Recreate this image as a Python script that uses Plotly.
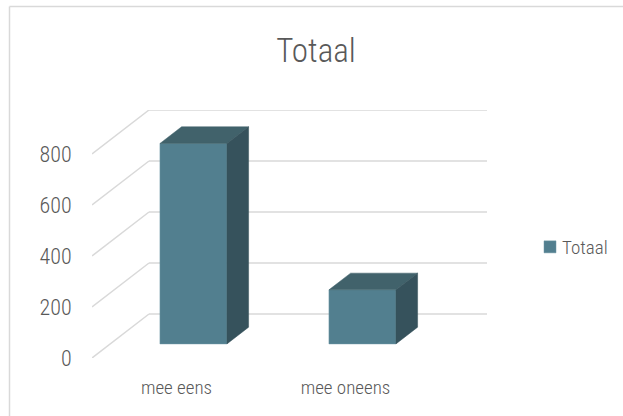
import plotly.graph_objects as go

title = "Totaal"
series_name = "Totaal"
categories = ["mee eens", "mee oneens"]
values = [786, 212]
y_ticks = [0, 200, 400, 600, 800]

FONT = "'Roboto Condensed','Open Sans Condensed','Noto Sans Condensed','DejaVu Sans Condensed',Roboto,sans-serif"
TXT = "#595959"
FRONT, TOP, SIDE, GRID = "#527f8f", "#41626b", "#36525c", "#d9d9d9"

# oblique projection of the 3D chart onto the 2D axes
W, H = 623, 416
L, R, T, B = 92, 487, 110, 358
DX, DY = 57 / 169, 44 / 0.255     # axis units for full depth
D0, D1 = 0.32, 0.70               # front / back of each column, in depth
BAR_W = 67 / 169
BAR_SHIFT = -1.3 / 169
X_MAX = (R - L) / 169
Y_MAX = (B - T) / 0.255


def proj(cat, val, depth):
    return cat + depth * DX, val + depth * DY


fig = go.Figure()
centers = [i + 0.5 for i in range(len(categories))]
bar_centers = [c + BAR_SHIFT for c in centers]

fig.add_bar(
    x=[proj(c, 0, D0)[0] for c in bar_centers],
    y=values,
    base=[D0 * DY] * len(values),
    width=BAR_W,
    name=series_name,
    marker=dict(color=FRONT, line=dict(color="#6f97a5", width=0.5)),
    hoverinfo="skip",
)

for c, v in zip(bar_centers, values):
    a, b = c - BAR_W / 2, c + BAR_W / 2
    faces = [
        ([(a, v, D0), (b, v, D0), (b, v, D1), (a, v, D1)], TOP),
        ([(b, 0, D0), (b, 0, D1), (b, v, D1), (b, v, D0)], SIDE),
    ]
    for pts, col in faces:
        xy = [proj(*p) for p in pts + pts[:1]]
        fig.add_scatter(
            x=[p[0] for p in xy], y=[p[1] for p in xy],
            mode="lines", fill="toself", fillcolor=col,
            line=dict(color=col, width=0.5),
            showlegend=False, hoverinfo="skip",
        )

shapes = []
for t in y_ticks:
    (x0, y0), (x1, y1) = proj(0, t, 0), proj(0, t, 1)
    x2, y2 = X_MAX, y1
    for a, b, c, d in [(x0, y0, x1, y1), (x1, y1, x2, y2)]:
        shapes.append(dict(type="line", xref="x", yref="y", x0=a, y0=b, x1=c, y1=d,
                           layer="below", line=dict(color=GRID, width=1.5)))

# chart-area border (left and top edges are visible in the frame)
bx = (9.5 - L) / (R - L)
by = (B - 6.5) / (B - T)
shapes.append(dict(type="line", xref="paper", yref="paper", x0=bx, x1=bx, y0=by,
                   y1=(B - 416) / (B - T), line=dict(color=GRID, width=1.5)))
shapes.append(dict(type="line", xref="paper", yref="paper", x0=bx, x1=(623 - L) / (R - L),
                   y0=by, y1=by, line=dict(color=GRID, width=1.5)))

fig.update_layout(
    width=W, height=H,
    margin=dict(l=L, r=W - R, t=T, b=H - B, autoexpand=False),
    paper_bgcolor="white", plot_bgcolor="white",
    font=dict(family=FONT, color=TXT),
    title=dict(text=title, x=316 / W, xref="container", xanchor="center",
               y=1 - 50 / H, yref="container", yanchor="middle",
               font=dict(family=FONT, size=33, color=TXT, weight=300)),
    xaxis=dict(range=[0, X_MAX], tickvals=centers, ticktext=categories,
               showgrid=False, zeroline=False, showline=False,
               ticks="outside", ticklen=12, tickcolor="rgba(0,0,0,0)",
               tickfont=dict(family=FONT, size=19, color=TXT, weight=300)),
    yaxis=dict(range=[0, Y_MAX], tickvals=y_ticks,
               showgrid=False, zeroline=False, showline=False,
               ticks="outside", ticklen=15, tickcolor="rgba(0,0,0,0)",
               tickfont=dict(family=FONT, size=22, color=TXT, weight=300)),
    legend=dict(x=(522 - L) / (R - L), y=(B - 247) / (B - T), xanchor="left", yanchor="middle",
                font=dict(family=FONT, size=19, color=TXT, weight=300), itemwidth=30,
                bgcolor="rgba(0,0,0,0)"),
    shapes=shapes,
    showlegend=True,
)

fig.write_html(
    "out.html",
    config={"displayModeBar": False},
    post_script=(
        "document.body.style.margin='0';document.body.style.overflow='hidden';"
        "document.querySelectorAll('.legendsymbols').forEach(function(g){"
        "g.style.transform='translateX(8px)';});"
    ),
)
